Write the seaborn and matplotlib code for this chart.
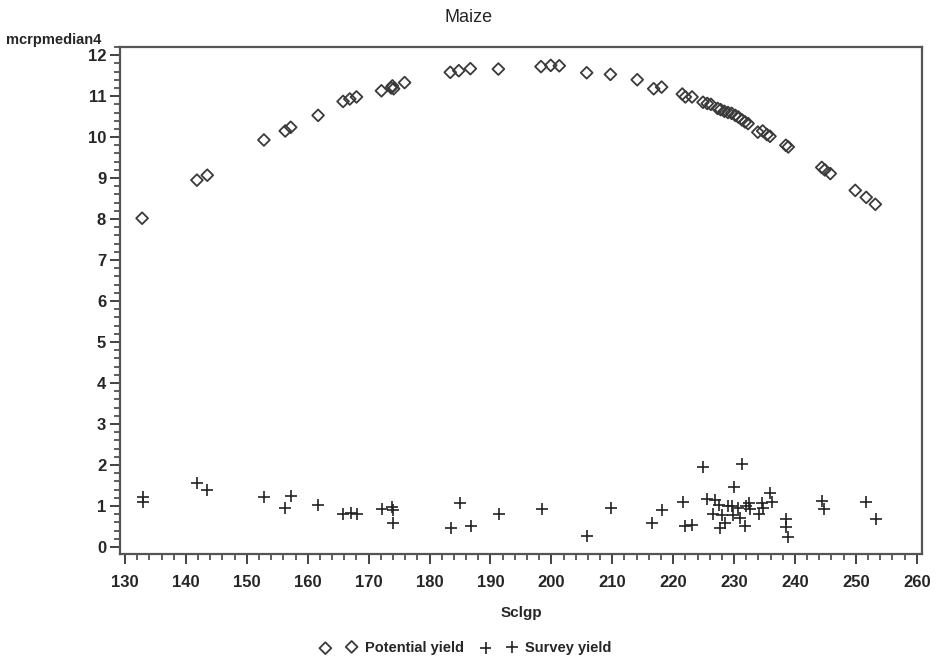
import pandas as pd
import seaborn as sns
import matplotlib.pyplot as plt
from matplotlib.ticker import MultipleLocator

# data
pot_x = [132.8, 141.8, 143.5, 152.8, 156.3, 157.2, 161.7, 165.8, 166.9, 168.0,
         172.1, 173.7, 173.9, 174.1, 175.9, 183.4, 184.8, 186.7, 191.3, 198.3,
         199.9, 201.3, 205.8, 209.7, 214.1, 216.8, 218.1, 221.5, 222.0, 223.1,
         224.9, 225.6, 226.2, 227.3, 227.8, 228.4, 229.0, 229.6, 230.2, 230.7,
         231.3, 231.8, 232.3, 233.9, 234.7, 235.4, 235.9, 238.5, 238.9, 244.4,
         244.9, 245.8, 249.9, 251.7, 253.2]
pot_y = [8.02, 8.95, 9.07, 9.93, 10.15, 10.24, 10.53, 10.87, 10.93, 10.98,
         11.13, 11.2, 11.25, 11.18, 11.33, 11.58, 11.62, 11.67, 11.66, 11.72,
         11.75, 11.74, 11.57, 11.53, 11.4, 11.18, 11.22, 11.05, 10.98, 10.98,
         10.85, 10.82, 10.8, 10.7, 10.67, 10.63, 10.6, 10.58, 10.53, 10.49,
         10.42, 10.37, 10.33, 10.12, 10.15, 10.06, 10.02, 9.8, 9.76, 9.26,
         9.2, 9.11, 8.7, 8.53, 8.36]

sur_x = [132.9, 132.9, 141.8, 143.5, 152.8, 156.3, 157.3, 161.7, 165.8, 167.1,
         168.1, 172.2, 173.8, 174.0, 174.0, 183.5, 185.0, 186.8, 191.4, 198.5,
         205.9, 209.8, 216.5, 218.1, 221.6, 222.0, 223.1, 224.9, 225.6, 226.6,
         226.9, 227.5, 227.7, 228.0, 228.5, 229.0, 229.7, 229.8, 230.0, 230.7,
         231.0, 231.3, 231.8, 232.0, 232.5, 232.6, 234.1, 234.6, 234.8, 235.9,
         236.2, 238.5, 238.5, 238.9, 244.4, 244.7, 251.7, 253.3]
sur_y = [1.22, 1.1, 1.56, 1.39, 1.22, 0.95, 1.24, 1.02, 0.8, 0.83,
         0.8, 0.93, 0.98, 0.9, 0.59, 0.46, 1.07, 0.51, 0.8, 0.93,
         0.27, 0.95, 0.59, 0.91, 1.1, 0.51, 0.54, 1.95, 1.17, 0.8,
         1.15, 1.02, 0.46, 0.78, 0.59, 1.0, 1.0, 0.78, 1.46, 0.95,
         0.71, 2.02, 0.51, 1.0, 1.07, 0.93, 0.8, 1.07, 0.95, 1.32,
         1.1, 0.68, 0.49, 0.24, 1.12, 0.93, 1.1, 0.68]

pot = pd.DataFrame({"Sclgp": pot_x, "mcrpmedian4": pot_y})
sur = pd.DataFrame({"Sclgp": sur_x, "mcrpmedian4": sur_y})

sns.set_style("ticks")
plt.rcParams["font.family"] = ["Liberation Sans", "DejaVu Sans"]

fig = plt.figure(figsize=(9.38, 6.61), dpi=100)
ax = fig.add_axes([0.128, 0.162, 0.855, 0.767])

sns.scatterplot(data=pot, x="Sclgp", y="mcrpmedian4", ax=ax, marker="D", s=36,
                facecolors="none", edgecolors="#3a3a3a", linewidth=1.3,
                label="Potential yield")
sns.scatterplot(data=sur, x="Sclgp", y="mcrpmedian4", ax=ax, marker="+", s=70,
                color="#222222", linewidth=1.2, label="Survey yield")

ax.set_xlim(129.18, 260.87)
ax.set_ylim(-0.17, 12.2)
ax.xaxis.set_major_locator(MultipleLocator(10))
ax.xaxis.set_minor_locator(MultipleLocator(2))
ax.yaxis.set_major_locator(MultipleLocator(1))
ax.yaxis.set_minor_locator(MultipleLocator(0.2))
ax.tick_params(which="major", length=7, width=1.3, color="#333333",
               labelsize=12)
ax.tick_params(axis="x", which="major", pad=8)
ax.tick_params(axis="y", which="major", pad=3)
ax.tick_params(which="minor", length=4, width=1.1, color="#333333")
for lab in ax.get_xticklabels() + ax.get_yticklabels():
    lab.set_fontweight("bold")
for sp in ax.spines.values():
    sp.set_visible(True)
    sp.set_color("#555555")
    sp.set_linewidth(1.6)

ax.set_xlabel("Sclgp", fontsize=11, fontweight="bold", labelpad=12)
ax.set_ylabel("")
fig.text(0.006, 1 - 40 / 661, "mcrpmedian4", fontsize=10.5, fontweight="bold",
         ha="left", va="center")
fig.text(0.5, 1 - 18 / 661, "Maize", fontsize=13, ha="center", va="center")

handles, labels = ax.get_legend_handles_labels()
if ax.get_legend() is not None:
    ax.get_legend().remove()
fig.legend(handles, labels, loc="center", bbox_to_anchor=(0.497, 1 - 648 / 661),
           ncol=2, scatterpoints=2, frameon=False, columnspacing=1.2,
           handletextpad=0.6, handlelength=2.4,
           prop={"weight": "bold", "size": 10.5})

fig.savefig("out.png", dpi=100)
